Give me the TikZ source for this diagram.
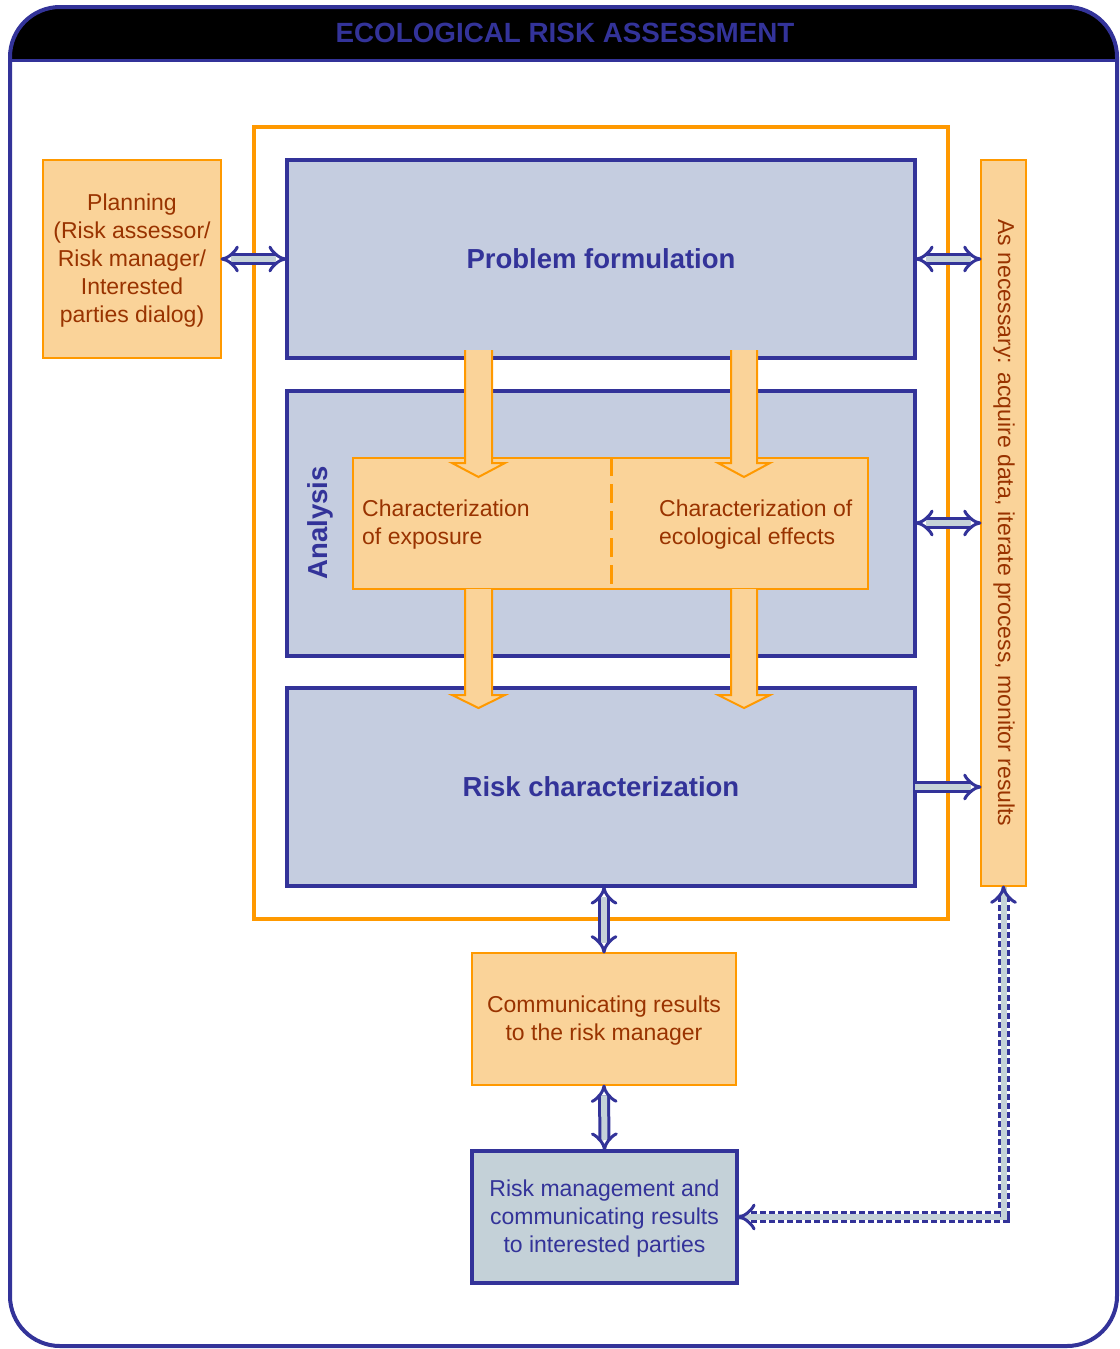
\documentclass[tikz,border=0pt]{standalone}
\usepackage{fontspec}
\setmainfont{Liberation Sans}
\usetikzlibrary{arrows.meta,calc}
\definecolor{dblue}{HTML}{333399}
\definecolor{orng}{HTML}{FF9900}
\definecolor{lorange}{HTML}{FAD399}
\definecolor{boxblue}{HTML}{C5CDE0}
\definecolor{rmfill}{HTML}{C4D1D8}
\definecolor{afill}{HTML}{C5D2D8}
\definecolor{brn}{HTML}{993300}
\newcommand\fbig{\fontsize{27.5}{33}\selectfont\bfseries}
\newcommand\ftitle{\fontsize{27.8}{33}\selectfont\bfseries}
\newcommand\freg{\fontsize{23}{28}\selectfont}
\tikzset{
  bluebox/.style={draw=dblue, line width=3.5pt, fill=boxblue, inner sep=0pt},
  orbox/.style={draw=orng, line width=2pt, fill=lorange, text=brn, inner sep=0pt, font=\freg, align=center},
  dbl/.style={draw=dblue, line width=3pt, double=afill, double distance=6pt, shorten <=-1.5pt, shorten >=-1.5pt},
  blockarrow/.style={fill=lorange},
  blockedge/.style={draw=orng, line width=2pt, line join=miter},
}
\begin{document}
\begin{tikzpicture}[x=1pt,y=-1pt]
\useasboundingbox (0,0) rectangle (1119,1349);
% title bar
\begin{scope}
\clip[rounded corners=50pt] (10,7) rectangle (1117,1346);
\fill[black] (10,7) rectangle (1117,60);
\end{scope}
\draw[dblue, line width=3pt] (10,60) -- (1117,60);
\draw[dblue, line width=4pt, rounded corners=50pt] (10,7) rectangle (1117,1346);
\node[text=dblue, font=\ftitle, inner sep=0pt] (title) at (565,33) {ECOLOGICAL RISK ASSESSMENT};

% orange frame
\draw[orng, line width=4pt] (254,127) rectangle (948,919);

% boxes
\node[orbox, minimum width=178pt, minimum height=198pt] (plan) at (132,259) {};
\node[text=brn, font=\freg, align=center, inner sep=0pt] (plantext) at (132,261)
  {Planning\\(Risk assessor/\\Risk manager/\\Interested\\parties dialog)};
\node[bluebox, minimum width=628pt, minimum height=198pt, text=dblue, font=\fbig] (pf) at (601,259) {Problem formulation};
\node[bluebox, minimum width=628pt, minimum height=265pt] (an) at (601,523.5) {};
\node[bluebox, minimum width=628pt, minimum height=198pt, text=dblue, font=\fbig] (rc) at (601,787) {Risk characterization};
\node[text=dblue, font=\fbig, rotate=90, inner sep=0pt] (anl) at (320,523) {Analysis};
\node[orbox, minimum width=515pt, minimum height=131pt] (inner) at (610.5,523.5) {};
\draw[orng, line width=3pt, dash pattern=on 19pt off 8pt] (inner.north -| 611,0) -- (inner.south -| 611,0);
\node[anchor=west, align=left, text=brn, font=\freg, inner sep=0pt] (exp) at (362,525) {Characterization\\of exposure};
\node[anchor=west, align=left, text=brn, font=\freg, inner sep=0pt] (eff) at (659,525) {Characterization of\\ecological effects};
\node[orbox, minimum width=45pt, minimum height=726pt] (bar) at (1003.5,523) {};
\node[text=brn, font=\freg, rotate=-90, inner sep=0pt] (bartext) at (1004,523) {As necessary: acquire data, iterate process, monitor results};
\node[orbox, minimum width=264pt, minimum height=132pt] (comm) at (604,1019) {};
\node[text=brn, font=\freg, align=center, inner sep=0pt] (commtext) at (604,1021) {Communicating results\\to the risk manager};
\node[bluebox, fill=rmfill, minimum width=265pt, minimum height=132pt] (rm) at (604.5,1217) {};
\node[text=dblue, font=\freg, align=center, inner sep=0pt] (rmtext) at (604.5,1219)
  {Risk management and\\communicating results\\to interested parties};

% orange block arrows
\foreach \xl/\xr/\ys/\yb/\yt in {465/492/350/463/477, 731/757/350/463/477, 465/492/589/695/708, 731/757/589/695/708}{
  \fill[blockarrow] (\xl,\ys) -- (\xl,\yb) -- (\xl-13,\yb) -- ({(\xl+\xr)/2},\yt) -- (\xr+13,\yb) -- (\xr,\yb) -- (\xr,\ys) -- cycle;
  \draw[blockedge] (\xl,\ys) -- (\xl,\yb) -- (\xl-13,\yb) -- ({(\xl+\xr)/2},\yt) -- (\xr+13,\yb) -- (\xr,\yb) -- (\xr,\ys);
}

% double-line connectors
\draw[dbl, {Implies}-{Implies}] (plan.east) -- (pf.west);
\draw[dbl, {Implies}-{Implies}] (pf.east) -- (bar.west |- pf.east);
\draw[dbl, {Implies}-{Implies}] (an.east |- bar.west) -- (bar.west);
\draw[dbl, -{Implies}] (rc.east) -- (bar.west |- rc.east);
\draw[dbl, {Implies}-{Implies}] (comm.north |- rc.south) -- (comm.north);
\draw[dbl, {Implies}-{Implies}] (comm.south) -- (rm.north);

% dashed feedback connector
\coordinate (corner) at (bar.south |- rm.east);
\draw[afill, line width=6pt] (bar.south) -- (corner) -- (rm.east);
\draw[dbl, dash pattern=on 6pt off 3pt, {Implies}-{Implies}] (bar.south) -- (corner) -- (rm.east);
\end{tikzpicture}
\end{document}
